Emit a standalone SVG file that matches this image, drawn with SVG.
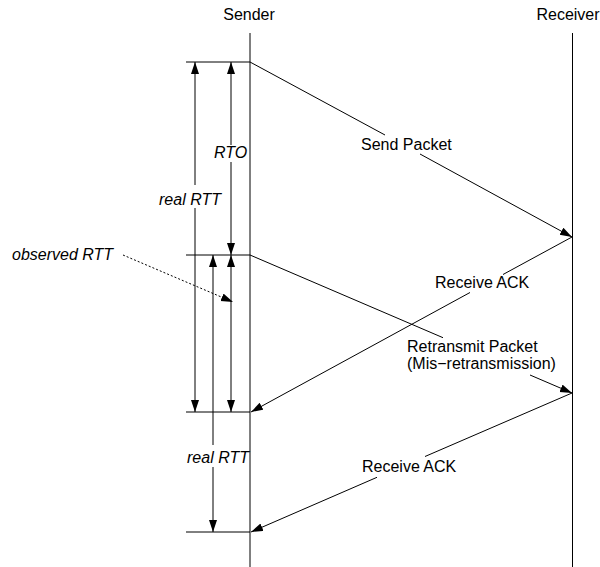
<svg xmlns="http://www.w3.org/2000/svg" width="600" height="567" viewBox="0 0 600 567">
<style>
text{font-family:"Liberation Sans",Arial,sans-serif;font-size:16px;fill:#000}
.it{font-style:italic}
.ln{stroke:#000;stroke-width:1;fill:none}
.arr{marker-end:url(#ah)}
.dim{marker-start:url(#ah)}
.dot{stroke-dasharray:2,2}
</style>
<defs>
<marker id="ah" markerUnits="userSpaceOnUse" markerWidth="13" markerHeight="9" refX="12" refY="4" orient="auto-start-reverse" viewBox="0 0 13 9">
<path d="M0,0 L12,4 L0,8 z" fill="#000"/>
</marker>
</defs>
<g id="sender">
<text x="249" y="20" text-anchor="middle">Sender</text>
<line class="ln" x1="250" y1="33" x2="250" y2="567"/>
</g>
<g id="receiver">
<text x="568" y="20" text-anchor="middle">Receiver</text>
<line class="ln" x1="572.5" y1="33" x2="572.5" y2="567"/>
</g>
<g id="ticks">
<line class="ln" x1="186" y1="62" x2="250" y2="62"/>
<line class="ln" x1="186" y1="255" x2="250" y2="255"/>
<line class="ln" x1="186" y1="412" x2="250" y2="412"/>
<line class="ln" x1="186" y1="532" x2="250" y2="532"/>
</g>
<g id="connectors">
<!-- Send Packet -->
<line class="ln" x1="250" y1="62" x2="385" y2="135"/>
<line class="ln arr" x1="420" y1="154" x2="572" y2="237"/>
<!-- Receive ACK 1 -->
<line class="ln" x1="572" y1="237" x2="503" y2="274.5"/>
<line class="ln arr" x1="470" y1="292.5" x2="251" y2="412"/>
<!-- Retransmit -->
<line class="ln" x1="250" y1="255" x2="443" y2="337.7"/>
<line class="ln arr" x1="530" y1="375" x2="572" y2="393"/>
<!-- Receive ACK 2 -->
<line class="ln" x1="572" y1="393" x2="425" y2="456.5"/>
<line class="ln arr" x1="377" y1="477.3" x2="251" y2="532"/>
<!-- dimension arrows -->
<line class="ln dim" x1="195" y1="62" x2="195" y2="185"/>
<line class="ln arr" x1="195" y1="208" x2="195" y2="412"/>
<line class="ln dim" x1="231" y1="62" x2="231" y2="145"/>
<line class="ln arr" x1="231" y1="162" x2="231" y2="255"/>
<line class="ln dim arr" x1="231" y1="255" x2="231" y2="412"/>
<line class="ln dim" x1="213" y1="255" x2="213" y2="445"/>
<line class="ln arr" x1="213" y1="467" x2="213" y2="532"/>
<!-- observed pointer -->
<line class="ln dot arr" x1="123" y1="255" x2="233" y2="302"/>
</g>
<g id="labels">
<text x="361" y="150">Send Packet</text>
<text x="435" y="288">Receive ACK</text>
<text x="407" y="352">Retransmit Packet</text>
<text x="407" y="369">(Mis−retransmission)</text>
<text x="362" y="472">Receive ACK</text>
<text class="it" x="214" y="158">RTO</text>
<text class="it" x="159" y="205">real RTT</text>
<text class="it" x="187" y="463">real RTT</text>
<text class="it" x="12" y="260">observed RTT</text>
</g>
</svg>
